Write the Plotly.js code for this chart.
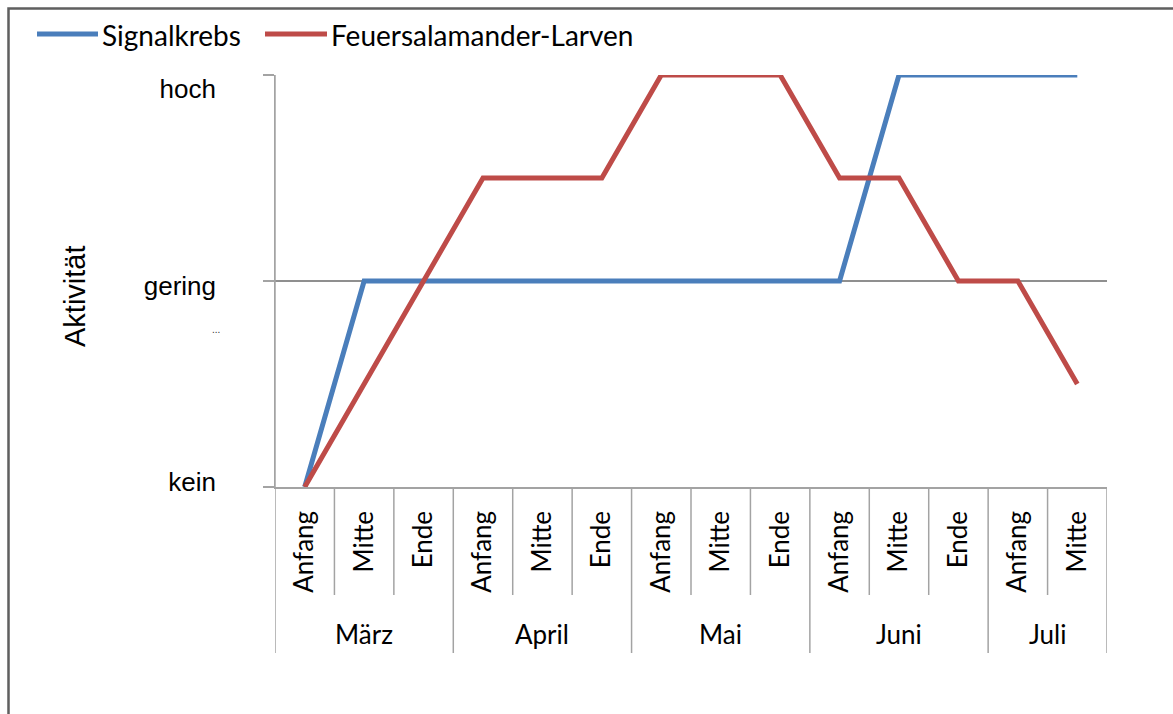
<!DOCTYPE html>
<html>
<head>
<meta charset="utf-8">
<script src="https://cdn.plot.ly/plotly-3.0.1.min.js"></script>
<style>html,body{margin:0;padding:0;background:#fff;}#chart{width:1173px;height:714px;}</style>
</head>
<body>
<div id="chart"></div>
<script>
// ---- data ----
const categories = ['Anfang','Mitte','Ende','Anfang','Mitte','Ende','Anfang','Mitte','Ende','Anfang','Mitte','Ende','Anfang','Mitte'];
const months = ['März','April','Mai','Juni','Juli'];
const monthOfCategory = [0,0,0,1,1,1,2,2,2,3,3,3,4,4];
const signalkrebs = [0,2,2,2,2,2,2,2,2,2,4,4,4,4];
const feuersalamander = [0,1,2,3,3,3,4,4,4,3,3,2,2,1];
const seriesNames = ['Signalkrebs','Feuersalamander-Larven'];
const yLevels = [0,2,4];
const yLabels = ['kein','gering','hoch'];
const yTitle = 'Aktivität';

// ---- layout helpers ----
const W = 1173, H = 714;
const L = 275, R = 1107, T = 75, B = 487;
const px = x => (x - L) / (R - L);
const py = y => (B - y) / (B - T);
const colors = ['#4A7EBB', '#BE4B48'];
const sepColor = '#a3a3a3';
const calib = 'Lato, "Open Sans", sans-serif';
const arial = 'Arial, "Liberation Sans", sans-serif';

const xIdx = categories.map((_, i) => i);

const traces = [
  {x: [], y: [], yaxis: 'y2', type: 'scatter', mode: 'lines', showlegend: false, hoverinfo: 'skip'},
  {x: xIdx, y: signalkrebs, name: seriesNames[0], type: 'scatter', mode: 'lines',
   line: {color: colors[0], width: 5}, hoverinfo: 'skip'},
  {x: xIdx, y: feuersalamander, name: seriesNames[1], type: 'scatter', mode: 'lines',
   line: {color: colors[1], width: 5}, hoverinfo: 'skip'}
];

const shapes = [];
// category separators below the axis
for (let k = 0; k <= categories.length; k++) {
  const isMonthEdge = k === 0 || k === categories.length || monthOfCategory[k] !== monthOfCategory[k - 1];
  const yTop = (k === 0) ? 1 : 0;
  shapes.push({type: 'line', xref: 'x', yref: 'paper', x0: k - 0.5, x1: k - 0.5,
    y0: yTop, y1: isMonthEdge ? py(653) : py(595),
    line: {color: sepColor, width: 1.5}});
}
// outer frame
shapes.push({type: 'rect', xref: 'paper', yref: 'paper', x0: px(8.5), x1: px(1200), y0: py(760), y1: py(8.5),
  line: {color: '#5f5f5f', width: 2.5}, fillcolor: 'rgba(0,0,0,0)'});
// legend samples
shapes.push({type: 'line', xref: 'paper', yref: 'paper', x0: px(37), x1: px(98), y0: py(34), y1: py(34),
  line: {color: colors[0], width: 5}});
shapes.push({type: 'line', xref: 'paper', yref: 'paper', x0: px(265), x1: px(327), y0: py(34), y1: py(34),
  line: {color: colors[1], width: 5}});

const annotations = [];
// month labels centred under their groups
months.forEach((m, mi) => {
  const idx = monthOfCategory.map((v, i) => v === mi ? i : null).filter(v => v !== null);
  const c = idx.reduce((a, b) => a + b, 0) / idx.length;
  annotations.push({x: c, xref: 'x', y: py(634), yref: 'paper', text: m, showarrow: false,
    xanchor: 'center', yanchor: 'middle', font: {family: calib, size: 26, color: '#000'}});
});
// axis title
annotations.push({x: px(75), xref: 'paper', y: py(296), yref: 'paper', text: yTitle, textangle: -90,
  showarrow: false, xanchor: 'center', yanchor: 'middle', font: {family: arial, size: 29, color: '#000'}});
// small ellipsis
annotations.push({x: px(216), xref: 'paper', y: py(329), yref: 'paper', text: '...',
  showarrow: false, xanchor: 'center', yanchor: 'middle', font: {family: arial, size: 10, color: '#333'}});
// legend texts
annotations.push({x: px(100), xref: 'paper', y: py(35), yref: 'paper', text: seriesNames[0],
  showarrow: false, xanchor: 'left', yanchor: 'middle', font: {family: calib, size: 28, color: '#000'}});
annotations.push({x: px(329), xref: 'paper', y: py(35), yref: 'paper', text: seriesNames[1],
  showarrow: false, xanchor: 'left', yanchor: 'middle', font: {family: calib, size: 28, color: '#000'}});

const layout = {
  width: W, height: H,
  margin: {l: L, r: W - R, t: T, b: H - B, pad: 0},
  paper_bgcolor: '#fff', plot_bgcolor: 'rgba(0,0,0,0)',
  showlegend: false,
  xaxis: {
    range: [-0.5, categories.length - 0.5], fixedrange: true,
    tickmode: 'array', tickvals: xIdx, ticktext: categories, tickangle: -90,
    ticks: '', ticklabelstandoff: 12,
    showgrid: false, zeroline: false,
    showline: true, linecolor: sepColor, linewidth: 1.5,
    tickfont: {family: calib, size: 26, color: '#000'}
  },
  yaxis: {
    range: [0, 4], fixedrange: true,
    tickmode: 'array', tickvals: yLevels, ticktext: yLabels, showticklabels: false,
    ticks: 'outside', ticklen: 11, tickcolor: sepColor, tickwidth: 1.5,
    showgrid: true, gridcolor: '#8f8f8f', gridwidth: 1.5, zeroline: false,
    showline: true, linecolor: sepColor, linewidth: 1.5
  },
  yaxis2: {
    domain: [py(482), py(89)], anchor: 'x', side: 'left',
    range: [0, 4], fixedrange: true,
    tickmode: 'array', tickvals: yLevels, ticktext: yLabels,
    ticks: '', ticklabelstandoff: 58,
    showgrid: false, zeroline: false, showline: false,
    tickfont: {family: arial, size: 26, color: '#000'}
  },
  shapes: shapes,
  annotations: annotations
};

Plotly.newPlot('chart', traces, layout, {staticPlot: true, displayModeBar: false});
</script>
</body>
</html>
